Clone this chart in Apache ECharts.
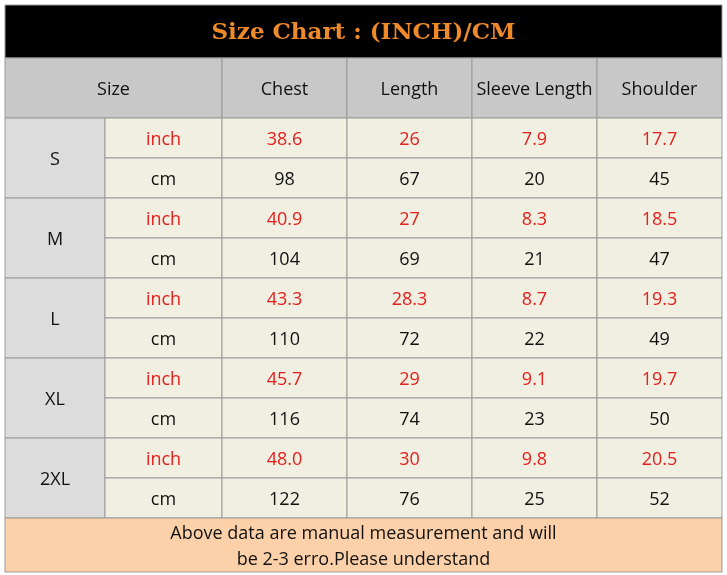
<!DOCTYPE html>
<html><head><meta charset="utf-8">
<script src="https://cdn.jsdelivr.net/npm/echarts@6/dist/echarts.min.js"></script>
<style>html,body{margin:0;padding:0;background:#fff}#c{width:727px;height:575px}</style>
</head><body><div id="c"></div>
<script>
// data
const title = 'Size Chart : (INCH)/CM'
const headers = ['Size', 'Chest', 'Length', 'Sleeve Length', 'Shoulder']
const sizes = ['S', 'M', 'L', 'XL', '2XL']
const inchRows = [
  ['38.6', '26', '7.9', '17.7'],
  ['40.9', '27', '8.3', '18.5'],
  ['43.3', '28.3', '8.7', '19.3'],
  ['45.7', '29', '9.1', '19.7'],
  ['48.0', '30', '9.8', '20.5']
]
const cmRows = [
  ['98', '67', '20', '45'],
  ['104', '69', '21', '47'],
  ['110', '72', '22', '49'],
  ['116', '74', '23', '50'],
  ['122', '76', '25', '52']
]
const note = 'Above data are manual measurement and will\nbe 2-3 erro.Please understand'

// layout (axis units = px inside grid)
const colEdges = [0, 100, 217, 342, 467, 592, 717]
const titleH = 53, headH = 60, rowH = 40, footH = 54
const totalH = titleH + headH + rowH * 10 + footH

const cells = []
function cell(x0, x1, y0, y1, text, fill, color, size, weight, font) {
  cells.push({x0, x1, y0, y1, text, fill, color, size: size || 18, weight: weight || 'normal', font: font || 'Open Sans'})
}
cell(0, 717, 0, titleH, title, '#000', '#ef8a2a', 23, 'bold', 'DejaVu Serif')
let y = titleH
cell(colEdges[0], colEdges[2], y, y + headH, headers[0], '#c8c8c8', '#111')
for (let c = 1; c < headers.length; c++) cell(colEdges[c + 1], colEdges[c + 2], y, y + headH, headers[c], '#c8c8c8', '#111')
y += headH
sizes.forEach((s, i) => {
  cell(colEdges[0], colEdges[1], y, y + rowH * 2, s, '#dcdcdc', '#111')
  cell(colEdges[1], colEdges[2], y, y + rowH, 'inch', '#f1eee2', '#e2201c')
  cell(colEdges[1], colEdges[2], y + rowH, y + rowH * 2, 'cm', '#f1eee2', '#111')
  for (let c = 0; c < 4; c++) {
    cell(colEdges[c + 2], colEdges[c + 3], y, y + rowH, inchRows[i][c], '#f1eee2', '#e2201c')
    cell(colEdges[c + 2], colEdges[c + 3], y + rowH, y + rowH * 2, cmRows[i][c], '#f1eee2', '#111')
  }
  y += rowH * 2
})
cell(0, 717, y, y + footH, note, '#fcd0a8', '#111', 18)

const chart = echarts.init(document.getElementById('c'))
chart.setOption({
  animation: false,
  grid: {left: 5, right: 5, top: 5, bottom: 3},
  xAxis: {type: 'value', min: 0, max: 717, show: false},
  yAxis: {type: 'value', min: 0, max: totalH, inverse: true, show: false},
  series: [{
    type: 'custom',
    data: cells.map((c, i) => [i]),
    renderItem(params, api) {
      const c = cells[params.dataIndex]
      const p0 = api.coord([c.x0, c.y0]), p1 = api.coord([c.x1, c.y1])
      return {
        type: 'group',
        children: [
          {type: 'rect', shape: {x: p0[0], y: p0[1], width: p1[0] - p0[0], height: p1[1] - p0[1]},
            style: {fill: c.fill, stroke: '#9a9a9a', lineWidth: 1}},
          {type: 'text', x: (p0[0] + p1[0]) / 2, y: (p0[1] + p1[1]) / 2 + 2,
            style: {text: c.text, fill: c.color, fontSize: c.size, fontWeight: c.weight,
              fontFamily: c.font, align: 'center', verticalAlign: 'middle', lineHeight: 26}}
        ]
      }
    }
  }]
})
</script></body></html>
